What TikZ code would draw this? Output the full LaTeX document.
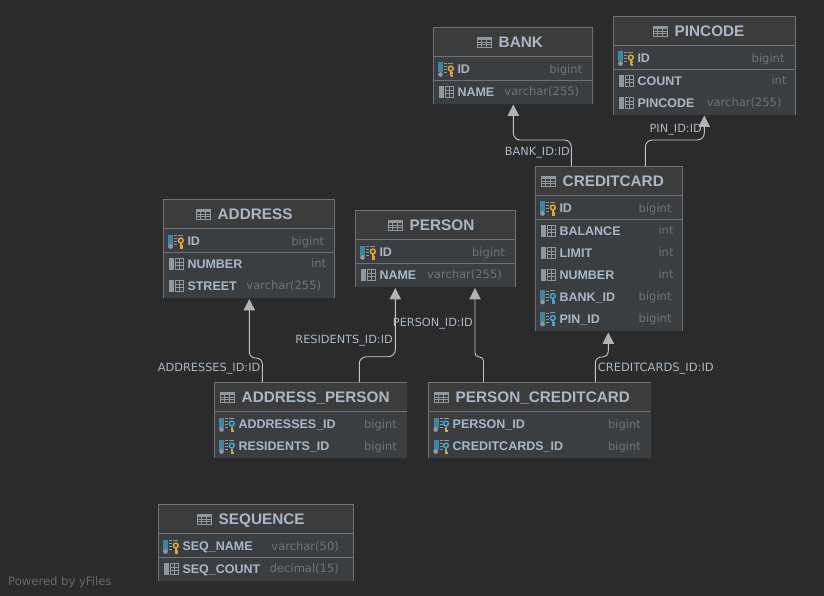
\documentclass[tikz,border=0pt]{standalone}
\usepackage{fontspec}
\setmainfont{DejaVu Sans}
\newfontfamily\namefont{Liberation Sans}
\usetikzlibrary{arrows.meta}

\definecolor{canvas}{HTML}{2B2B2B}
\definecolor{headfill}{HTML}{3C3C3C}
\definecolor{bodyfill}{HTML}{3A3E41}
\definecolor{boxline}{HTML}{6F7173}
\definecolor{textblue}{HTML}{A9B7C6}
\definecolor{typegray}{HTML}{737373}
\definecolor{linkgray}{HTML}{C4C4C4}
\definecolor{tipgray}{HTML}{B2B2B2}
\definecolor{iconblue}{HTML}{3E86A0}
\definecolor{icongray}{HTML}{8F989E}
\definecolor{icongold}{HTML}{E0A53A}
\definecolor{keyblue}{HTML}{3FA6D0}

\tikzset{
  tablebody/.style={fill=bodyfill, inner sep=0pt, anchor=north west},
  boxedge/.style={draw=boxline, line width=0.9pt},
  tablehead/.style={font=\namefont\fontsize{15.3}{16}\selectfont\bfseries, text=textblue, inner sep=0pt, text height=11pt, text depth=2pt},
  colname/.style={font=\namefont\fontsize{12.5}{14}\selectfont\bfseries, text=textblue, anchor=west, inner sep=0pt, text height=9pt, text depth=2pt},
  coltype/.style={font=\fontsize{11.5}{14}\selectfont, text=typegray, anchor=east, inner sep=0pt, text height=9pt, text depth=3pt},
  linklabel/.style={font=\fontsize{11.3}{14}\selectfont, text=textblue, anchor=east, inner sep=0pt, text height=9pt, text depth=3pt},
  fklink/.style={draw=linkgray, line width=0.9pt, rounded corners=7pt,
    -{Triangle[width=11.4pt,length=11.4pt,fill=tipgray,color=tipgray]}},
  tblicon/.pic={
    \draw[icongray, line width=0.8pt, fill=headfill] (-7,-5) rectangle (7,5);
    \fill[icongray] (-7,-5) rectangle (7,-2.4);
    \foreach \gx in {-2.5,2.5} \draw[icongray, line width=0.7pt] (\gx,-5) -- (\gx,5);
    \foreach \gy in {0,2.5} \draw[icongray, line width=0.7pt] (-7,\gy) -- (7,\gy);
  },
  colicon/.pic={
    \fill[icongray] (-7,-6) rectangle (-2,6);
    \draw[icongray, line width=0.8pt] (-1,-5.6) rectangle (7,5.6);
    \draw[icongray, line width=0.7pt] (-1,-1.8) -- (7,-1.8) (-1,1.8) -- (7,1.8) (3,-5.6) -- (3,5.6);
  },
  keybase/.pic={
    \fill[#1] (-8,-7) rectangle (-3,3);
    \fill[icongray] (-5.8,5) circle (2.4);
    \foreach \gy in {-6,-3,0,3} \draw[icongray, line width=0.7pt] (-2,\gy) -- (1,\gy);
    \draw[icongray, line width=0.7pt] (2,-6.4) -- (7,-6.4);
  },
  pkicon/.pic={
    \pic {keybase=iconblue};
    \draw[icongold, line width=1.5pt] (4.5,-1) circle (2.4);
    \draw[icongold, line width=2pt] (4.5,1.4) -- (4.5,7) (4.5,4) -- (6.8,4) (4.5,6.4) -- (6.8,6.4);
  },
  fkicon/.pic={
    \pic {keybase=iconblue};
    \draw[icongold, line width=2pt] (4.5,1.4) -- (4.5,7) (4.5,6.4) -- (6.8,6.4);
    \draw[keyblue, line width=1.5pt] (4.5,-1) circle (2.4);
    \draw[keyblue, line width=2pt] (4.5,1.4) -- (4.5,3.6);
  },
  fkblue/.pic={
    \pic {keybase=iconblue};
    \draw[keyblue, line width=1.5pt] (4.5,-1) circle (2.4);
    \draw[keyblue, line width=2pt] (4.5,1.4) -- (4.5,7) (4.5,4) -- (6.8,4) (4.5,6.4) -- (6.8,6.4);
  },
}

% table frame: name, left, top, right, bottom, title, icon x
\newcommand{\dbtable}[7]{
  \pgfmathsetmacro{\tw}{#4-#2}
  \pgfmathsetmacro{\th}{#5-#3}
  \node[tablebody, minimum width=\tw, minimum height=\th] (#1) at (#2,#3) {};
  \fill[headfill] (#1.north west) rectangle (#4,#3+29);
  \draw[boxedge] (#1.south west) |- (#1.north east);
  \draw[boxedge] (#2,#3+29) -- (#4,#3+29);
  \pic at (#7,#3+14.7) {tblicon};
  \node[tablehead, anchor=west] (#1-title) at (#7+14.5,#3+15.7) {#6};
}

% one column: node name, left, right, y, icon, label, type, type margin
\newcommand{\dbcol}[8]{
  \pic at (#2+13,#4) {#5};
  \node[colname] (#1) at (#2+24,#4+0.8) {#6};
  \node[coltype] (#1-type) at (#3-#8,#4+0.8) {#7};
}

\begin{document}
\begin{tikzpicture}[x=1pt,y=-1pt]

\useasboundingbox (0,0) rectangle (824,596);
\fill[canvas] (0,0) rectangle (824,596);

% tables
\dbtable{bank}{433.3}{27.3}{592.3}{103.7}{BANK}{484}
\dbcol{bank-id}{433.3}{592.3}{69.5}{pkicon}{ID}{bigint}{10}
\dbcol{bank-name}{433.3}{592.3}{92}{colicon}{NAME}{varchar(255)}{13}
\draw[boxedge] (433.3,80.3) -- (592.3,80.3);
\draw[boxedge] (bank.north east) -- (bank.south east);

\dbtable{pincode}{613.3}{16.3}{794.7}{114.7}{PINCODE}{660}
\dbcol{pin-id}{613.3}{794.7}{58.5}{pkicon}{ID}{bigint}{10}
\dbcol{pin-count}{613.3}{794.7}{81}{colicon}{COUNT}{int}{8}
\dbcol{pin-code}{613.3}{794.7}{103}{colicon}{PINCODE}{varchar(255)}{13}
\draw[boxedge] (613.3,69.3) -- (794.7,69.3);
\draw[boxedge] (pincode.north east) -- (pincode.south east);

\dbtable{creditcard}{535.3}{166.3}{681.7}{331}{CREDITCARD}{548}
\dbcol{cc-id}{535.3}{681.7}{208.5}{pkicon}{ID}{bigint}{10}
\dbcol{cc-balance}{535.3}{681.7}{231}{colicon}{BALANCE}{int}{8}
\dbcol{cc-limit}{535.3}{681.7}{253}{colicon}{LIMIT}{int}{8}
\dbcol{cc-number}{535.3}{681.7}{275}{colicon}{NUMBER}{int}{8}
\dbcol{cc-bank}{535.3}{681.7}{297}{fkblue}{BANK\_ID}{bigint}{10}
\dbcol{cc-pin}{535.3}{681.7}{319}{fkblue}{PIN\_ID}{bigint}{10}
\draw[boxedge] (535.3,219.3) -- (681.7,219.3);
\draw[boxedge] (creditcard.north east) -- (creditcard.south east);

\dbtable{address}{163.3}{199.3}{334.3}{297.7}{ADDRESS}{203}
\dbcol{addr-id}{163.3}{334.3}{241.5}{pkicon}{ID}{bigint}{10}
\dbcol{addr-number}{163.3}{334.3}{264}{colicon}{NUMBER}{int}{8}
\dbcol{addr-street}{163.3}{334.3}{286}{colicon}{STREET}{varchar(255)}{13}
\draw[boxedge] (163.3,252.3) -- (334.3,252.3);
\draw[boxedge] (address.north east) -- (address.south east);

\dbtable{person}{355.3}{210.3}{515}{286.7}{PERSON}{395}
\dbcol{person-id}{355.3}{515}{252.5}{pkicon}{ID}{bigint}{10}
\dbcol{person-name}{355.3}{515}{275}{colicon}{NAME}{varchar(255)}{13}
\draw[boxedge] (355.3,263.3) -- (515,263.3);
\draw[boxedge] (person.north east) -- (person.south east);

\dbtable{addrperson}{214.3}{382.3}{407}{457.7}{ADDRESS\_PERSON}{227}
\dbcol{ap-addr}{214.3}{407}{424.5}{fkicon}{ADDRESSES\_ID}{bigint}{10}
\dbcol{ap-res}{214.3}{407}{446.5}{fkicon}{RESIDENTS\_ID}{bigint}{10}

\dbtable{personcard}{428.5}{382.3}{651}{457.7}{PERSON\_CREDITCARD}{441}
\dbcol{pc-person}{428.5}{651}{424.5}{fkicon}{PERSON\_ID}{bigint}{10}
\dbcol{pc-card}{428.5}{651}{446.5}{fkicon}{CREDITCARDS\_ID}{bigint}{10}

\dbtable{sequence}{158.3}{504.3}{352.7}{580.7}{SEQUENCE}{204}
\dbcol{seq-name}{158.3}{352.7}{546.5}{pkicon}{SEQ\_NAME}{varchar(50)}{13.7}
\dbcol{seq-count}{158.3}{352.7}{569}{colicon}{SEQ\_COUNT}{decimal(15)}{13.7}
\draw[boxedge] (158.3,557.3) -- (352.7,557.3);
\draw[boxedge] (sequence.north east) -- (sequence.south east);

% connectors
\coordinate (bankout) at (571.3,166.3);
\coordinate (bankbend) at (513.3,140);
\coordinate (bankin) at (513.3,104.5);
\coordinate (pinout) at (645.3,166.3);
\coordinate (pinbend) at (704.3,140);
\coordinate (pinin) at (704.3,115.5);
\coordinate (addrout) at (262.3,382.3);
\coordinate (addrbend) at (249.3,358);
\coordinate (addrin) at (249.3,299);
\coordinate (resout) at (359.3,382.3);
\coordinate (resbend) at (395.3,356.7);
\coordinate (resin) at (395.3,288);
\coordinate (perout) at (483.5,382.3);
\coordinate (perbend) at (475,357);
\coordinate (perin) at (475,288);
\coordinate (cardout) at (595.3,382.3);
\coordinate (cardbend) at (608.3,357);
\coordinate (cardin) at (608.3,332.5);

\draw[fklink] (bankout) |- (bankbend) -- (bankin);
\draw[fklink] (pinout) |- (pinbend) -- (pinin);
\draw[fklink, rounded corners=6pt] (addrout) |- (addrbend) -- (addrin);
\draw[fklink] (resout) |- (resbend) -- (resin);
\draw[fklink, rounded corners=4pt] (perout) |- (perbend) -- (perin);
\draw[fklink, rounded corners=6pt] (cardout) |- (cardbend) -- (cardin);

% link labels
\node[linklabel] (banklabel) at (570,152.4) {BANK\_ID:ID};
\node[linklabel] (pinlabel) at (702,129.2) {PIN\_ID:ID};
\node[linklabel] (addrlabel) at (260.5,368.2) {ADDRESSES\_ID:ID};
\node[linklabel] (reslabel) at (393,340.2) {RESIDENTS\_ID:ID};
\node[linklabel] (perlabel) at (473,323.2) {PERSON\_ID:ID};
\node[linklabel, font=\fontsize{11.5}{14}\selectfont] (cardlabel) at (714,368.2) {CREDITCARDS\_ID:ID};

\node[font=\fontsize{11.6}{13}\selectfont, text=typegray!85!canvas, anchor=west, inner sep=0pt] (poweredby) at (8,582.2) {Powered by yFiles};

\end{tikzpicture}
\end{document}
